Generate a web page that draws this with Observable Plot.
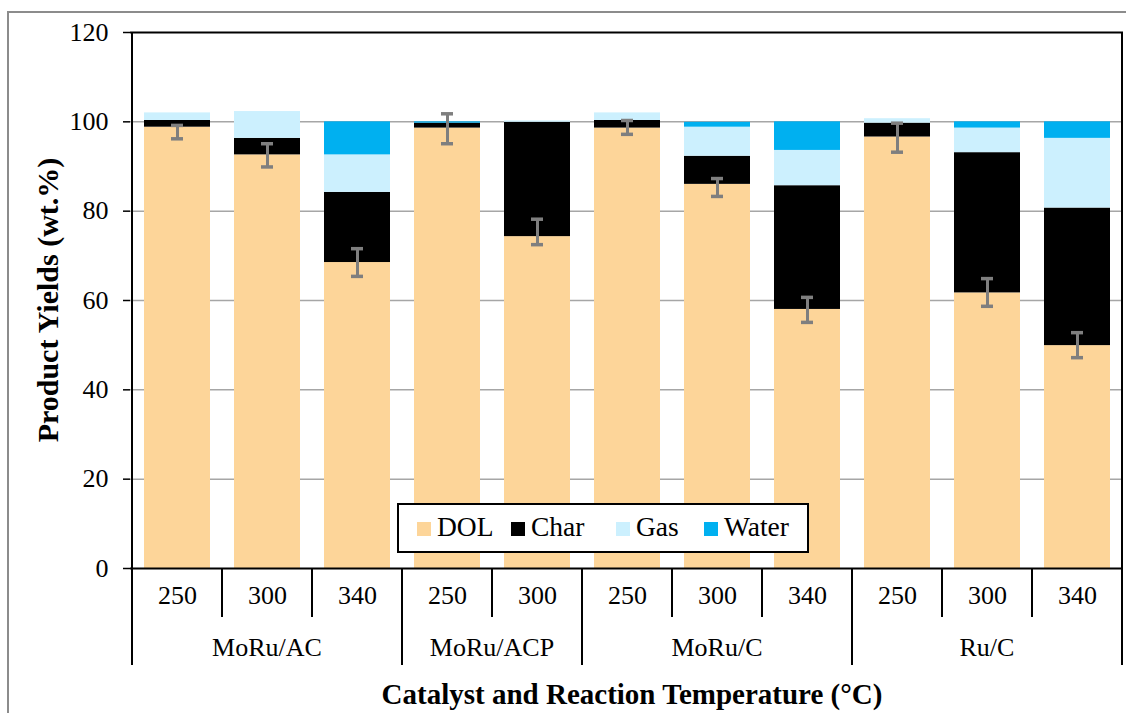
<!DOCTYPE html>
<html><head><meta charset="utf-8">
<script src="https://cdn.jsdelivr.net/npm/d3@7"></script>
<script src="https://cdn.jsdelivr.net/npm/@observablehq/plot@0.6"></script>
<style>
body{margin:0;background:#fff}
#wrap{position:relative;width:1126px;height:713px;overflow:hidden;font-family:"Liberation Serif","Times New Roman",serif}
#border{position:absolute;left:7px;top:11px;width:1300px;height:900px;border-left:2px solid #8c8c8c;border-top:2px solid #8c8c8c}
#wrap svg{position:absolute;left:0;top:0}
</style></head>
<body><div id="wrap"><div id="border"></div></div>
<script>
const catalysts = ["MoRu/AC","MoRu/AC","MoRu/AC","MoRu/ACP","MoRu/ACP","MoRu/C","MoRu/C","MoRu/C","Ru/C","Ru/C","Ru/C"];
const temps = ["250","300","340","250","300","250","300","340","250","300","340"];
const types = ["DOL","Char","Gas","Water"];
const dol   = [98.8, 92.6, 68.5, 98.6, 74.3, 98.6, 86.0, 58.0, 96.6, 61.7, 49.9];
const charV = [1.5, 3.7, 15.7, 1.1, 25.6, 1.7, 6.3, 27.7, 3.1, 31.4, 30.8];
const gas   = [1.7, 6.0, 8.4, 0.0, 0.3, 1.7, 6.5, 7.9, 1.0, 5.5, 15.6];
const water = [0.0, 0.0, 7.4, 0.3, 0.0, 0.0, 1.1, 6.4, 0.0, 1.4, 3.7];
const errLow  = [96.2, 89.9, 65.4, 95.1, 72.5, 97.2, 83.3, 55.1, 93.2, 58.7, 47.2];
const errHigh = [99.2, 95.1, 71.6, 101.8, 78.2, 100.3, 87.3, 60.7, 99.7, 64.9, 52.8];
const yTicks = [0, 20, 40, 60, 80, 100, 120];
const colors = ["#FDD599", "#000000", "#CCF0FE", "#00B0F0"];
const yTitle = "Product Yields (wt.%)";
const xTitle = "Catalyst and Reaction Temperature (°C)";

const keys = temps.map((t, i) => catalysts[i] + "|" + t);
const series = [dol, charV, gas, water];
const rows = [];
keys.forEach((k, i) => types.forEach((t, j) => rows.push({key: k, type: t, value: series[j][i]})));
const errs = keys.map((k, i) => ({key: k, lo: errLow[i], hi: errHigh[i]}));

const FONT = "'Liberation Serif', 'Times New Roman', serif";
const FS = "26px";
const plot = Plot.plot({
  width: 1126, height: 713,
  marginTop: 32, marginBottom: 145, marginLeft: 130, marginRight: 3,
  style: {fontFamily: FONT, fontSize: FS, background: "transparent", color: "#000", overflow: "visible"},
  x: {domain: keys, paddingInner: 0.268, paddingOuter: 0.134, axis: null},
  y: {domain: [0, 120], axis: null},
  color: {domain: types, range: colors},
  marks: [
    Plot.gridY(yTicks.filter(t => t > 0 && t < 120), {stroke: "#a6a6a6", strokeOpacity: 1, strokeWidth: 1.5}),
    Plot.barY(rows, {x: "key", y: "value", fill: "type", order: types}),
    Plot.ruleX(errs, {x: "key", y1: "lo", y2: "hi", stroke: "#7f7f7f", strokeWidth: 3}),
    Plot.tickY(errs, {x: "key", y: "lo", stroke: "#7f7f7f", strokeWidth: 3.5, insetLeft: 27, insetRight: 27}),
    Plot.tickY(errs, {x: "key", y: "hi", stroke: "#7f7f7f", strokeWidth: 3.5, insetLeft: 27, insetRight: 27}),
    Plot.axisY({ticks: yTicks, tickSize: 7, tickPadding: 15, label: null, strokeWidth: 1.5}),
    Plot.ruleY([0, 120], {stroke: "#000", strokeWidth: 2}),
    Plot.text(keys, {x: d => d, frameAnchor: "bottom", dy: 35, text: (d, i) => temps[i], fill: "#000"})
  ]
});
document.getElementById("wrap").appendChild(plot);

const sx = plot.scale("x");
const sy = plot.scale("y");
const bw = sx.bandwidth, step = sx.step;
const center = k => sx.apply(k) + bw / 2;
const after = k => sx.apply(k) + bw + (step - bw) / 2;
const before = k => sx.apply(k) - (step - bw) / 2;
const y0 = sy.apply(0), yTop = sy.apply(120);
const svg = d3.select(plot);
svg.selectAll("text").style("font-size", FS).style("font-family", FONT);
const g = svg.append("g").attr("stroke", "#000");

// frame sides extending through category axis
const leftX = before(keys[0]), rightX = after(keys[keys.length - 1]);
g.append("line").attr("x1", leftX).attr("x2", leftX).attr("y1", yTop).attr("y2", y0 + 97).attr("stroke-width", 2);
g.append("line").attr("x1", rightX).attr("x2", rightX).attr("y1", yTop).attr("y2", y0 + 97).attr("stroke-width", 2);

// separators
const groups = [];
keys.forEach((k, i) => {
  if (!groups.length || groups[groups.length - 1].name !== catalysts[i]) groups.push({name: catalysts[i], keys: []});
  groups[groups.length - 1].keys.push(k);
});
keys.forEach((k, i) => {
  if (i === keys.length - 1) return;
  const x = after(k);
  const groupEnd = catalysts[i] !== catalysts[i + 1];
  g.append("line").attr("x1", x).attr("x2", x).attr("y1", y0).attr("y2", y0 + (groupEnd ? 97 : 49)).attr("stroke-width", 2);
});
function addText(sel, txt, opts = {}) {
  return sel.append("text").text(txt)
    .style("font-family", FONT).style("font-size", opts.size || FS).style("font-weight", opts.weight || "normal")
    .style("text-anchor", opts.anchor || "middle").style("dominant-baseline", "middle").attr("fill", "#000");
}
// group labels
groups.forEach(gr => {
  const cx = (center(gr.keys[0]) + center(gr.keys[gr.keys.length - 1])) / 2;
  addText(svg, gr.name).attr("x", cx).attr("y", y0 + 82);
});
// titles
addText(svg, xTitle, {weight: "bold", size: "29px"}).attr("x", 632).attr("y", 697);
addText(svg, yTitle, {weight: "bold", size: "30px"}).attr("transform", `translate(51,${(y0 + yTop) / 2}) rotate(-90)`);

// legend
const lg = svg.append("g").attr("transform", "translate(398,504)");
lg.append("rect").attr("width", 410).attr("height", 48).attr("fill", "#fff").attr("stroke", "#000").attr("stroke-width", 2);
const lx = [19, 113, 218, 306];
types.forEach((t, i) => {
  lg.append("rect").attr("x", lx[i]).attr("y", 18).attr("width", 14).attr("height", 14).attr("fill", colors[i]);
  addText(lg, t, {anchor: "start", size: "27.5px"}).attr("x", lx[i] + 20).attr("y", 26);
});
</script>
</body></html>
